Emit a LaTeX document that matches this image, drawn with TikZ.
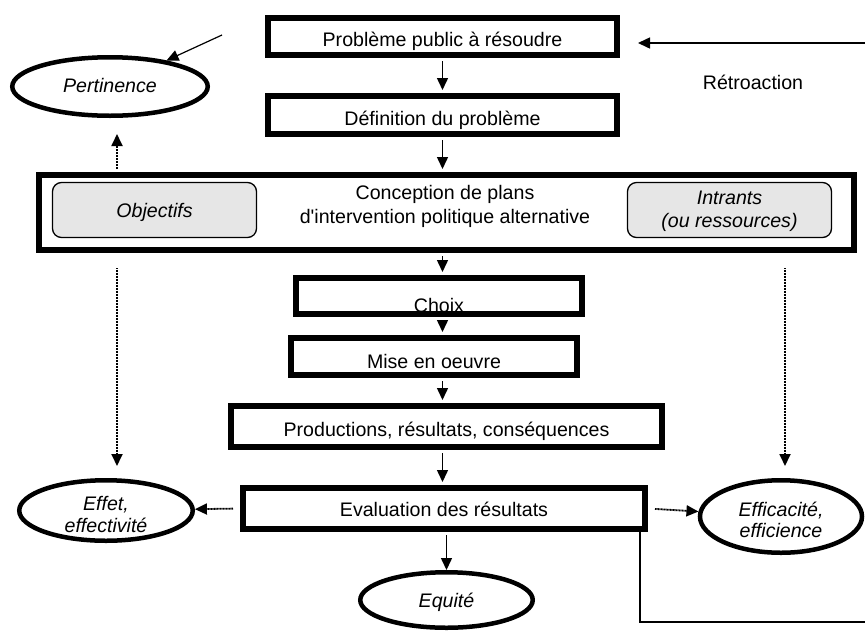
\documentclass[tikz,border=0pt]{standalone}
\usepackage{fontspec}
\setmainfont{Liberation Sans}[Ligatures=TeXOff]
\usetikzlibrary{shapes.geometric,arrows.meta}
\definecolor{boxgray}{RGB}{230,230,230}
\begin{document}
\begin{tikzpicture}[x=1pt,y=-1pt,
  box/.style={draw,line width=6pt,inner sep=0pt,rectangle},
  ell/.style={draw,ellipse,line width=4.5pt,inner sep=0pt},
  rbox/.style={draw,line width=1.3pt,rounded corners=9pt,fill=boxgray,inner sep=0pt},
  txt/.style={anchor=base,inner sep=0pt,font=\fontsize{19.6}{23.5}\selectfont},
  mtxt/.style={anchor=center,inner sep=0pt,align=center,font=\fontsize{19.6}{23}\selectfont},
  arr/.style={line width=1.5pt,-{Triangle[length=12pt,width=11pt]}},
  darr/.style={arr,line width=1.8pt,dash pattern=on 1pt off 0.5pt},
  bb/.style={shorten <=3pt,shorten >=3pt}
]
\useasboundingbox (0,0) rectangle (865,630);

% main boxes
\node[box,minimum width=349pt,minimum height=37pt] (pb) at (442.5,36.5) {};
\node[txt] (pbt) at (442.5,46.5) {Problème public à résoudre};
\node[box,minimum width=349pt,minimum height=38pt] (def) at (442.5,115) {};
\node[txt] (deft) at (442.5,125) {Définition du problème};
\node[box,minimum width=815pt,minimum height=75pt] (conc) at (446.5,212.5) {};
\node[mtxt,font=\fontsize{19.6}{24}\selectfont] (conct) at (445,206.9) {Conception de plans\\d'intervention politique alternative};
\node[rbox,minimum width=204pt,minimum height=55pt] (obj) at (154.5,210) {};
\node[txt,font=\fontsize{19.6}{23.5}\selectfont\itshape] (objt) at (154.5,217) {Objectifs};
\node[rbox,minimum width=204pt,minimum height=55pt] (intr) at (729.5,210) {};
\node[mtxt,font=\fontsize{19.6}{23}\selectfont\itshape] (intrt) at (729.5,211.4) {Intrants\\(ou ressources)};
\node[box,minimum width=286pt,minimum height=36pt] (choix) at (439,296) {};
\node[txt] (choixt) at (439,312) {Choix};
\node[box,minimum width=286pt,minimum height=37pt] (mise) at (434,356.5) {};
\node[txt] (miset) at (434,368) {Mise en oeuvre};
\node[box,minimum width=431pt,minimum height=41pt] (prod) at (446.5,426.5) {};
\node[txt] (prodt) at (446.5,436) {Productions, résultats, conséquences};
\node[box,minimum width=402pt,minimum height=41pt] (eval) at (444,508.5) {};
\node[txt] (evalt) at (444,516) {Evaluation des résultats};

% ellipses
\node[ell,minimum width=195.5pt,minimum height=58.5pt] (pert) at (110,86.5) {};
\node[txt,font=\fontsize{19.6}{23.5}\selectfont\itshape] (pertt) at (110,92) {Pertinence};
\node[ell,minimum width=173.5pt,minimum height=60.5pt] (effet) at (106,510.5) {};
\node[mtxt,font=\fontsize{19.6}{22}\selectfont\itshape] (effett) at (106,514.5) {Effet,\\effectivité};
\node[ell,minimum width=162pt,minimum height=72.5pt] (effic) at (781,516.5) {};
\node[mtxt,font=\fontsize{19.6}{21}\selectfont\itshape] (effict) at (781,519.5) {Efficacité,\\efficience};
\node[ell,minimum width=172.5pt,minimum height=55.5pt] (equ) at (446.5,600) {};
\node[txt,font=\fontsize{19.6}{23.5}\selectfont\itshape] (equt) at (446.5,607) {Equité};

\node[txt] (retrot) at (753,89) {Rétroaction};

% free ends
\coordinate (pin) at (222,35);
\coordinate (retro) at (865,43);
\coordinate (pertup) at (117,134);
\coordinate (objd) at (117,268);
\coordinate (effd) at (117,466);
\coordinate (intd) at (785,268);
\coordinate (efd) at (785,466);
\coordinate (fb1) at (640,622);
\coordinate (fb2) at (866,622);

% solid arrows
\draw[arr,bb] (pb.south) -- (def.north);
\draw[arr,bb] (def.south) -- (conc.north -| def.south);
\draw[arr,bb] (conc.south -| pb.south) -- (choix.north -| pb.south);
\draw[arr,bb] (choix.south -| pb.south) -- (mise.north -| pb.south);
\draw[arr,bb] (mise.south -| pb.south) -- (prod.north -| pb.south);
\draw[arr,bb] (prod.south -| pb.south) -- (eval.north -| pb.south);
\draw[arr,shorten <=3pt] (eval.south -| equ.north) -- (equ.north);
\draw[arr,line width=1.2pt] (pin) -- (pert);
\draw[arr,shorten >=18pt] (retro) -- (pb.east |- retro);
\draw[line width=1.2pt] (eval.south -| fb1) -- (fb1) -- (fb2);

% dotted arrows
\draw[darr,shorten <=3pt] (conc.north -| pertup) -- (pertup);
\draw[darr] (objd) -- (effd);
\draw[darr] (intd) -- (efd);
\draw[darr,shorten <=7pt] (eval.west) -- (effet);
\draw[darr,shorten <=7pt] (eval.east) -- (effic);
\end{tikzpicture}
\end{document}
